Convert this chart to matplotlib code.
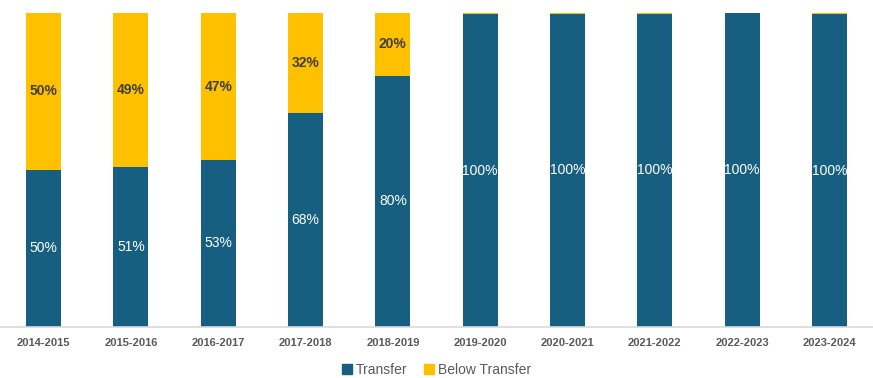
import numpy as np
import matplotlib.pyplot as plt
from matplotlib.patches import Patch

years = ['2014-2015', '2015-2016', '2016-2017', '2017-2018', '2018-2019',
         '2019-2020', '2020-2021', '2021-2022', '2022-2023', '2023-2024']
transfer = [50, 51, 53, 68, 80, 99.5, 99.7, 99.7, 100, 99.5]
below_transfer = [50, 49, 47, 32, 20, 0.5, 0.3, 0.3, 0, 0.5]

blue = '#175F80'
yellow = '#FFC000'

plt.rcParams['font.family'] = ['Liberation Sans Narrow', 'Liberation Sans', 'DejaVu Sans']

fig = plt.figure(figsize=(8.73, 3.78), dpi=100)
ax = fig.add_axes([0, 0.136, 1, 0.830])

x = np.arange(len(years))
ax.bar(x, transfer, width=0.4, color=blue)
ax.bar(x, below_transfer, width=0.4, bottom=transfer, color=yellow)

for i in range(len(years)):
    ax.text(x[i], transfer[i] / 2, f'{round(transfer[i] + 0.01):.0f}%', ha='center',
            va='center', color='white', fontsize=10)
    if below_transfer[i] >= 5:
        ax.text(x[i], transfer[i] + below_transfer[i] / 2, f'{below_transfer[i]:.0f}%',
                ha='center', va='center', color='#404040', fontsize=10, fontweight='bold')

ax.set_xlim(-0.5, len(years) - 0.5)
ax.set_ylim(0, 100)
ax.set_xticks(x)
ax.set_xticklabels(years, fontsize=8, fontweight='bold', color='#595959')
ax.tick_params(axis='x', length=0, pad=8)
ax.set_yticks([])
for side in ['top', 'right', 'left']:
    ax.spines[side].set_visible(False)
ax.spines['bottom'].set_color('#D9D9D9')
ax.spines['bottom'].set_linewidth(1.2)

handles = [Patch(color=blue, label='Transfer'), Patch(color=yellow, label='Below Transfer')]
fig.legend(handles=handles, loc='lower center', ncol=2, frameon=False, fontsize=10,
           handlelength=0.7, handleheight=0.7, handletextpad=0.3, columnspacing=1.2,
           labelcolor='#595959', bbox_to_anchor=(0.5, -0.03))

fig.savefig('out.png')
